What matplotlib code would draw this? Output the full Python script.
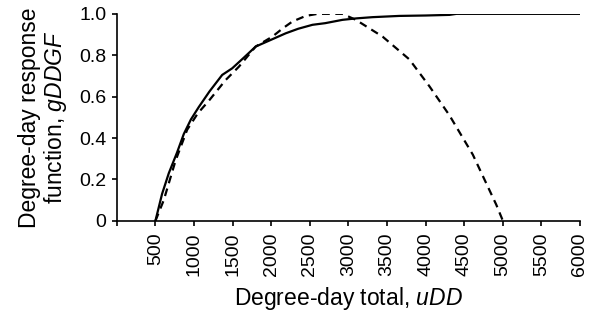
import numpy as np
import matplotlib
matplotlib.use('Agg')
import matplotlib.pyplot as plt

plt.rcParams['font.family'] = ['Liberation Sans', 'DejaVu Sans']
plt.rcParams['mathtext.fontset'] = 'custom'
plt.rcParams['mathtext.rm'] = 'Liberation Sans'
plt.rcParams['mathtext.it'] = 'Liberation Sans:italic'

# solid curve: saturating response
dd_solid = [500, 586, 673, 780, 868, 960, 1062, 1200, 1365, 1495, 1650, 1799, 2000, 2188, 2350, 2534, 2700, 2923, 3100, 3313, 3660, 4000, 4309, 4400, 6000]
g_solid = [0, 0.13, 0.23, 0.33, 0.42, 0.49, 0.55, 0.625, 0.705, 0.737, 0.79, 0.842, 0.875, 0.906, 0.928, 0.947, 0.955, 0.971, 0.978, 0.984, 0.990, 0.992, 0.995, 1.0, 1.0]

# dashed curve: rises then falls back to zero
dd_dash = [500, 608, 760, 911, 1050, 1192, 1409, 1582, 1799, 2015, 2150, 2275, 2448, 2600, 2923, 3097, 3443, 3790, 4050, 4309, 4612, 4916, 5002]
g_dash = [0, 0.10, 0.29, 0.44, 0.52, 0.58, 0.68, 0.745, 0.842, 0.89, 0.93, 0.963, 0.99, 1.0, 1.0, 0.971, 0.89, 0.78, 0.65, 0.51, 0.32, 0.078, 0]

xticks = list(range(0, 6001, 500))
xlabels = [''] + [str(v) for v in xticks[1:]]
yticks = [0, 0.2, 0.4, 0.6, 0.8, 1.0]
ylabels = ['0', '0.2', '0.4', '0.6', '0.8', '1.0']

fig = plt.figure(figsize=(5.93, 3.22), dpi=100)
ax = fig.add_subplot(111)
fig.subplots_adjust(left=0.197, right=0.978, bottom=0.314, top=0.957)

ax.plot(dd_solid, g_solid, color='black', linewidth=1.6)
ax.plot(dd_dash, g_dash, color='black', linewidth=1.6, linestyle=(0, (3.5, 2.5)))

ax.set_xlim(0, 6000)
ax.set_ylim(0, 1.0)
ax.set_xticks(xticks)
ax.set_xticklabels(xlabels, rotation=90, fontsize=14)
ax.set_yticks(yticks)
ax.set_yticklabels(ylabels, fontsize=14)
ax.tick_params(direction='out', length=3.5, width=1.2, color='black')
ax.tick_params(axis='x', pad=5)
ax.tick_params(axis='y', pad=4)

for s in ['top', 'right']:
    ax.spines[s].set_visible(False)
for s in ['left', 'bottom']:
    ax.spines[s].set_linewidth(1.2)

ax.set_xlabel('Degree-day total, $\\mathit{uDD}$', fontsize=16.5, labelpad=6)
ax.set_ylabel('Degree-day response\nfunction, $\\mathit{gDDGF}$', fontsize=16.5, labelpad=7, linespacing=1.05)

fig.savefig('out.png', dpi=100)
